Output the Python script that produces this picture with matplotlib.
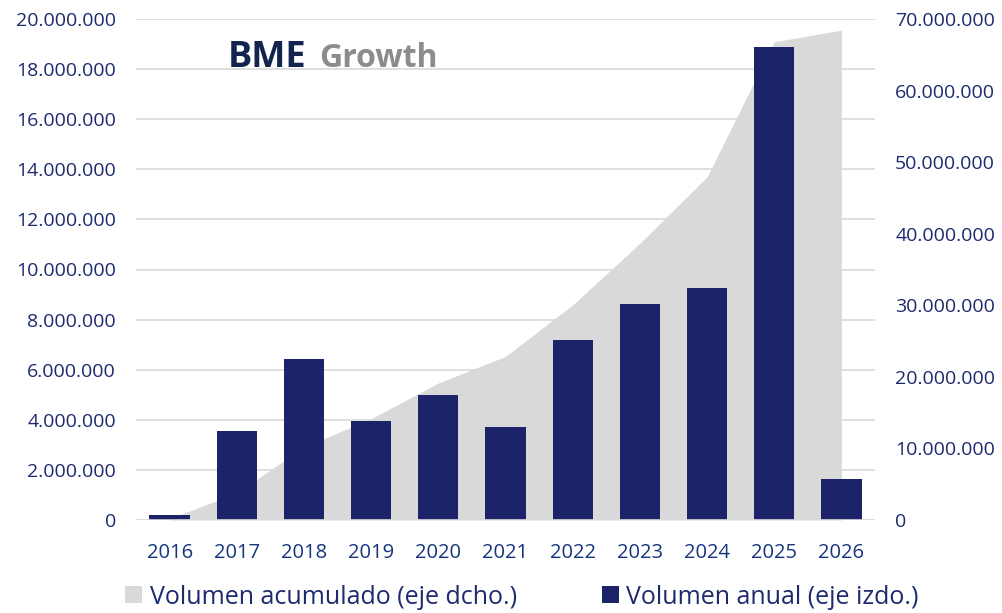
import matplotlib
matplotlib.use("Agg")
import matplotlib.pyplot as plt
import numpy as np
from matplotlib.ticker import FuncFormatter
from matplotlib.patches import Patch

plt.rcParams['font.family'] = ['Open Sans', 'DejaVu Sans']

years = ['2016', '2017', '2018', '2019', '2020', '2021', '2022', '2023', '2024', '2025', '2026']
annual = [0.2e6, 3.57e6, 6.43e6, 3.95e6, 4.99e6, 3.72e6, 7.19e6, 8.62e6, 9.26e6, 18.88e6, 1.64e6]
cumulative = list(np.cumsum(annual))

left_ticks = list(range(0, 20000001, 2000000))
right_ticks = list(range(0, 70000001, 10000000))

BAR = '#1c2369'
AREA = '#d9d9d9'
TXT = '#1d2a6e'
XTXT = '#163580'
GRID = '#d9d9d9'

def fmt(v, pos=None):
    return f"{int(round(v)):,}".replace(',', '.')

fig = plt.figure(figsize=(10.02, 6.13), dpi=100)
rect = [136/1002, 93/613, 739/1002, 501/613]
x = np.arange(len(years))

ax_bg = fig.add_axes(rect, zorder=0)
ax2 = fig.add_axes(rect, zorder=1)
ax = fig.add_axes(rect, zorder=2)

for a in (ax_bg, ax2, ax):
    a.set_xlim(-0.5, len(years) - 0.5)
    for s in a.spines.values():
        s.set_visible(False)

# grid
ax_bg.set_ylim(0, 20000000)
ax_bg.set_yticks(left_ticks)
ax_bg.yaxis.grid(True, color=GRID, linewidth=1.2)
ax_bg.tick_params(left=False, bottom=False, labelleft=False, labelbottom=False)

# area (right axis)
ax2.patch.set_visible(False)
ax2.fill_between(x, cumulative, 0, color=AREA, linewidth=0)
ax2.set_ylim(0, 70000000)
ax2.set_yticks(right_ticks)
ax2.yaxis.set_major_formatter(FuncFormatter(fmt))
ax2.yaxis.tick_right()
ax2.tick_params(axis='y', right=False, labelright=True, left=False, labelleft=False,
                labelsize=14, labelcolor=TXT, pad=11)
ax2.tick_params(axis='x', bottom=False, labelbottom=False)

# bars (left axis)
ax.patch.set_visible(False)
ax.bar(x, annual, width=0.6, color=BAR, zorder=3)
ax.set_ylim(0, 20000000)
ax.set_yticks(left_ticks)
ax.yaxis.set_major_formatter(FuncFormatter(fmt))
ax.tick_params(axis='y', left=False, labelsize=14, labelcolor=TXT, pad=11)
ax.set_xticks(x)
ax.set_xticklabels(years)
ax.tick_params(axis='x', bottom=False, labelsize=14.5, labelcolor=XTXT, pad=13)
ax.axhline(0, color=GRID, linewidth=1.2, zorder=4)

# logo
fig.text(228/1002, 1 - 67/613, 'BME', fontsize=26, fontweight='bold', color='#13254f',
         ha='left', va='baseline')
fig.text(319/1002, 1 - 67/613, 'Growth', fontsize=23, fontweight='bold', color='#8a8c8e',
         ha='left', va='baseline')

# legend
handles = [Patch(facecolor=AREA, edgecolor='none', label='Volumen acumulado (eje dcho.)'),
           Patch(facecolor=BAR, edgecolor='none', label='Volumen anual (eje izdo.)')]
leg = fig.legend(handles=handles, loc='center', bbox_to_anchor=(522/1002, 1 - 597/613), ncol=2,
                 frameon=False, fontsize=18, handlelength=0.68, handleheight=0.68,
                 handletextpad=0.3, columnspacing=3.4, labelcolor=TXT)

fig.savefig('out.png', dpi=100)
